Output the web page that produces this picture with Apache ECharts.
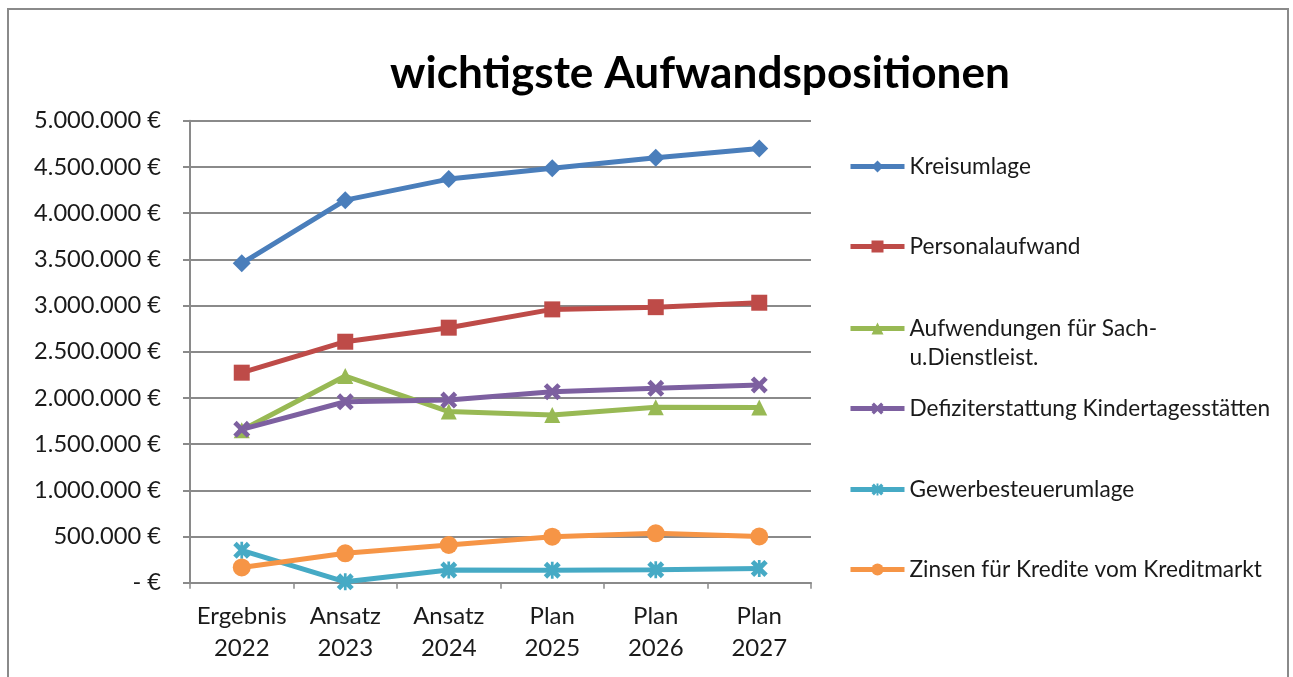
<!DOCTYPE html>
<html>
<head>
<meta charset="utf-8">
<script src="https://cdn.jsdelivr.net/npm/echarts@6/dist/echarts.min.js"></script>
<style>
html,body{margin:0;padding:0;background:#fff;}
#chart{width:1293px;height:677px;}
</style>
</head>
<body>
<div id="chart"></div>
<script>
// ---- data ----
const titleText = 'wichtigste Aufwandspositionen';
const categories = ['Ergebnis\n2022', 'Ansatz\n2023', 'Ansatz\n2024', 'Plan\n2025', 'Plan\n2026', 'Plan\n2027'];
const seriesNames = [
  'Kreisumlage',
  'Personalaufwand',
  'Aufwendungen für Sach-u.Dienstleist.',
  'Defiziterstattung Kindertagesstätten',
  'Gewerbesteuerumlage',
  'Zinsen für Kredite vom Kreditmarkt'
];
const kreisumlage = [3456000, 4140000, 4368000, 4485000, 4600000, 4700000];
const personalaufwand = [2273000, 2608000, 2760000, 2958000, 2982000, 3030000];
const sachDienst = [1650000, 2237000, 1852000, 1815000, 1900000, 1895000];
const kita = [1660000, 1958000, 1977000, 2067000, 2104000, 2140000];
const gewerbesteuerumlage = [350000, 10000, 137000, 135000, 140000, 155000];
const zinsen = [165000, 318000, 408000, 498000, 535000, 500000];
const yTicks = { min: 0, max: 5000000, interval: 500000 };

// ---- helpers ----
const FONT = 'Lato';
function fitSize(text, weight, target) {
  const c = document.createElement('canvas').getContext('2d');
  c.font = weight + ' 100px ' + FONT;
  return target / c.measureText(text).width * 100;
}
function fmtEuro(v) {
  if (v === 0) return '- €';
  return String(v).replace(/\B(?=(\d{3})+(?!\d))/g, '.') + ' €';
}

const titleSize = fitSize(titleText, 'bold', 620);
const axisSize = fitSize('5.000.000 €', 'normal', 127);
const legendSize = fitSize('Defiziterstattung Kindertagesstätten', 'normal', 361);
const catSize = fitSize('Ergebnis', 'normal', 90);

const colors = ['#4A7EBB', '#BE4B48', '#98B954', '#7D60A0', '#46AAC5', '#F69546'];
const symX = 'path://M0,2L2,0L5,3L8,0L10,2L7,5L10,8L8,10L5,7L2,10L0,8L3,5Z';
const symStar = 'path://M0,2L2,0L4.2,2.2L4.2,0L5.8,0L5.8,2.2L8,0L10,2L7,5L10,8L8,10L5.8,7.8L5.8,10L4.2,10L4.2,7.8L2,10L0,8L3,5Z';
const symbols = ['diamond', 'rect', 'triangle', symX, symStar, 'circle'];
const symSizes = [18, 16, 16, 17, 17, 18];
const dataSets = [kreisumlage, personalaufwand, sachDienst, kita, gewerbesteuerumlage, zinsen];

const legendY = [165, 245, 327, 407, 488, 568];
const legends = seriesNames.map((n, i) => {
  const multi = i === 2;
  return {
    data: [n],
    left: 843,
    top: multi ? legendY[i] - 47 : legendY[i] - 18,
    itemWidth: 54,
    itemHeight: 15,
    selectedMode: false,
    lineStyle: { width: 5 },
    formatter: multi ? () => '\nAufwendungen für Sach-\nu.Dienstleist.' : undefined,
    textStyle: {
      fontFamily: FONT, fontSize: legendSize, color: '#1a1a1a',
      lineHeight: 29
    }
  };
});

const series = seriesNames.map((n, i) => ({
  name: n,
  type: 'line',
  data: dataSets[i],
  symbol: symbols[i],
  symbolSize: symSizes[i],
  showAllSymbol: true,
  color: colors[i],
  lineStyle: { width: 5, color: colors[i] },
  itemStyle: { color: colors[i] },
  emphasis: { disabled: true },
  animation: false
}));

const chart = echarts.init(document.getElementById('chart'), null, { renderer: 'canvas' });
chart.setOption({
  backgroundColor: '#fff',
  animation: false,
  title: {
    text: titleText,
    left: 695,
    textAlign: 'center',
    top: 47,
    textStyle: { fontFamily: FONT, fontWeight: 'bold', fontSize: titleSize, color: '#000', lineHeight: 44 }
  },
  graphic: [{
    type: 'rect', z: -10, silent: true,
    shape: { x: 8, y: 9, width: 1280, height: 720 },
    style: { fill: 'none', stroke: '#8a8a8a', lineWidth: 2 }
  }],
  legend: legends,
  grid: { left: 190, top: 120.7, right: 482, bottom: 94.3, containLabel: false },
  xAxis: {
    type: 'category',
    data: categories,
    boundaryGap: true,
    axisLine: { show: true, lineStyle: { color: '#8a8a8a', width: 2 } },
    axisTick: { show: true, length: 6, inside: false, alignWithLabel: false, lineStyle: { color: '#8a8a8a', width: 1.5 } },
    axisLabel: {
      margin: 18, fontFamily: FONT, fontSize: catSize, color: '#1a1a1a', lineHeight: 32, interval: 0
    },
    splitLine: { show: false }
  },
  yAxis: {
    type: 'value',
    min: yTicks.min, max: yTicks.max, interval: yTicks.interval,
    axisLine: { show: true, lineStyle: { color: '#8a8a8a', width: 2 } },
    axisTick: { show: true, length: 7, lineStyle: { color: '#8a8a8a', width: 2 } },
    axisLabel: { margin: 29, fontFamily: FONT, fontSize: axisSize, color: '#1a1a1a', formatter: fmtEuro },
    splitLine: { show: true, lineStyle: { color: '#8a8a8a', width: 2 } }
  },
  series: series
});
</script>
</body>
</html>
